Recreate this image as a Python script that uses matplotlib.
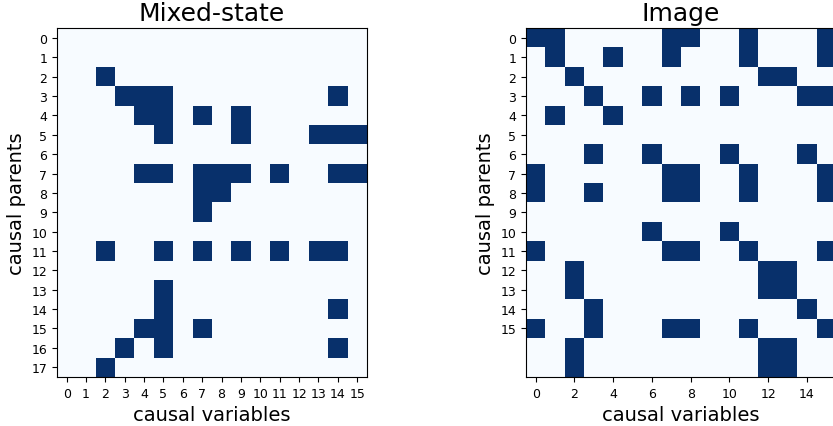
import numpy as np
import matplotlib
matplotlib.use("Agg")
import matplotlib.pyplot as plt

# active parent/variable pairs, one list per row (causal parent)
mixed_rows = [
    [], [], [2], [3, 4, 5, 14], [4, 5, 7, 9], [5, 9, 13, 14, 15], [],
    [4, 5, 7, 8, 9, 11, 14, 15], [7, 8], [7], [],
    [2, 5, 7, 9, 11, 13, 14], [], [5], [5, 14], [4, 5, 7], [3, 5, 14], [2],
]
image_rows = [
    [0, 1, 7, 8, 11, 15], [1, 4, 7, 11, 15], [2, 12, 13], [3, 6, 8, 10, 14, 15],
    [1, 4], [], [3, 6, 10, 14], [0, 7, 8, 11, 15], [0, 3, 7, 8, 11, 15], [],
    [6, 10], [0, 7, 8, 11, 15], [2, 12, 13], [2, 12, 13], [3, 14],
    [0, 3, 7, 8, 11, 15], [2, 12, 13], [2, 12, 13],
]
n_vars = 16


def to_matrix(rows):
    m = np.zeros((len(rows), n_vars))
    for i, cols in enumerate(rows):
        m[i, cols] = 1
    return m


mixed = to_matrix(mixed_rows)
image = to_matrix(image_rows)

fig = plt.figure(figsize=(8.33, 4.27), dpi=100)
ax1 = fig.add_axes([0.0684, 0.1148, 0.372, 0.817])
ax2 = fig.add_axes([0.6315, 0.1148, 0.372, 0.817])

ax1.imshow(mixed, cmap="Blues", vmin=0, vmax=1, aspect="equal")
ax1.set_title("Mixed-state", fontsize=18)
ax1.set_xticks(range(n_vars))
ax1.set_yticks(range(len(mixed_rows)))
ax1.set_xlabel("causal variables", fontsize=14)
ax1.set_ylabel("causal parents", fontsize=14)
ax1.tick_params(labelsize=9)

ax2.imshow(image, cmap="Blues", vmin=0, vmax=1, aspect="equal")
ax2.set_title("Image", fontsize=18)
ax2.set_yticks(range(16))
ax2.set_xlabel("causal variables", fontsize=14)
ax2.set_ylabel("causal parents", fontsize=14)
ax2.tick_params(labelsize=9)

fig.savefig("out.png", dpi=100)
